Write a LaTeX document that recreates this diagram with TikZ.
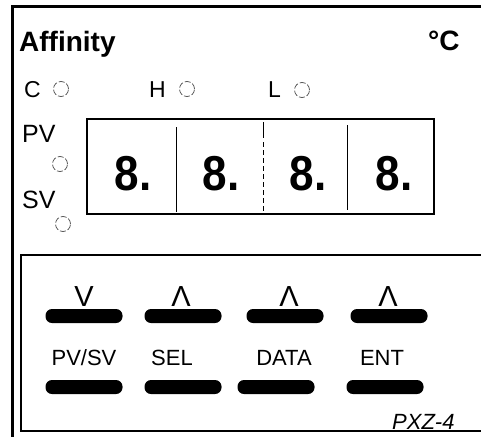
\documentclass[tikz,border=0pt]{standalone}
\usepackage{fontspec}
\setmainfont{Liberation Sans}
\begin{document}
\begin{tikzpicture}[x=1pt,y=-1pt,
  frame/.style={line width=3pt},
  boxline/.style={line width=1.4pt},
  divider/.style={line width=0.8pt},
  lamp/.style={circle,draw=black!70,line width=0.7pt,minimum size=15pt,inner sep=0pt,dash pattern=on 6pt off 2pt},
  title/.style={font=\bfseries\fontsize{28}{28}\selectfont,inner sep=0pt,anchor=base west},
  lbl/.style={font=\fontsize{23}{23}\selectfont,inner sep=0pt,anchor=base west},
  digit/.style={font=\bfseries\fontsize{49}{49}\selectfont,inner sep=0pt,anchor=base,xscale=0.9},
  sym/.style={font=\fontsize{29}{29}\selectfont,inner sep=0pt,anchor=base},
  keylbl/.style={font=\fontsize{22}{22}\selectfont,inner sep=0pt,anchor=base},
  pill/.style={fill=black,rounded corners=6.5pt,minimum width=77pt,minimum height=14pt,inner sep=0pt},
  model/.style={font=\itshape\fontsize{22}{22}\selectfont,inner sep=0pt,anchor=base west}]
\useasboundingbox (0,0) rectangle (481,436);
\fill[white] (0,0) rectangle (481,436);
% outer frame
\draw[frame] (12,440) -- (12,7) -- (490,7);
% header
\node[title] (aff) at (19,52) {Affinity};
\node[title] (degc) at (428,51) {°C};
% indicator lamps
\node[lbl] (c) at (24,97) {C};
\node[lamp] (cl) at (61,89) {};
\node[lbl] (h) at (149,97) {H};
\node[lamp] (hl) at (187,89) {};
\node[lbl] (l) at (268,97) {L};
\node[lamp] (ll) at (302,90) {};
\node[lbl,font=\fontsize{25}{25}\selectfont] (pv) at (22,142) {PV};
\node[lamp] (pvl) at (60,164) {};
\node[lbl,font=\fontsize{25}{25}\selectfont] (sv) at (22,208) {SV};
\node[lamp] (svl) at (63,224) {};
% display
\draw[boxline] (87,119) rectangle (434,214);
\draw[divider] (176,127) -- (176,212);
\draw[divider] (263,122) -- (263,138);
\draw[divider,dash pattern=on 5pt off 3pt] (263,142) -- (263,212);
\draw[divider] (347,125) -- (347,210);
\node[digit] (d1) at (133,190) {8.};
\node[digit] (d2) at (221,190) {8.};
\node[digit] (d3) at (308,190) {8.};
\node[digit] (d4) at (394,190) {8.};
% key panel
\draw[boxline] (490,255) -- (21,255) -- (21,431) -- (490,431);
\node[sym] (k1s) at (84,306) {V};
\node[sym] (k2s) at (181,306) {Λ};
\node[sym] (k3s) at (289,306) {Λ};
\node[sym] (k4s) at (388,306) {Λ};
\node[pill] (k1t) at (84,316) {};
\node[pill] (k2t) at (183,316) {};
\node[pill] (k3t) at (285,316) {};
\node[pill] (k4t) at (389,316) {};
\node[keylbl] (k1) at (84,365) {PV/SV};
\node[keylbl] (k2) at (172,365) {SEL};
\node[keylbl] (k3) at (284,365) {DATA};
\node[keylbl] (k4) at (382,365) {ENT};
\node[pill] (k1b) at (84,387) {};
\node[pill] (k2b) at (183,387) {};
\node[pill] (k3b) at (276,387) {};
\node[pill] (k4b) at (385,387) {};
\node[model] (mdl) at (392,429) {PXZ-4};
\end{tikzpicture}
\end{document}
